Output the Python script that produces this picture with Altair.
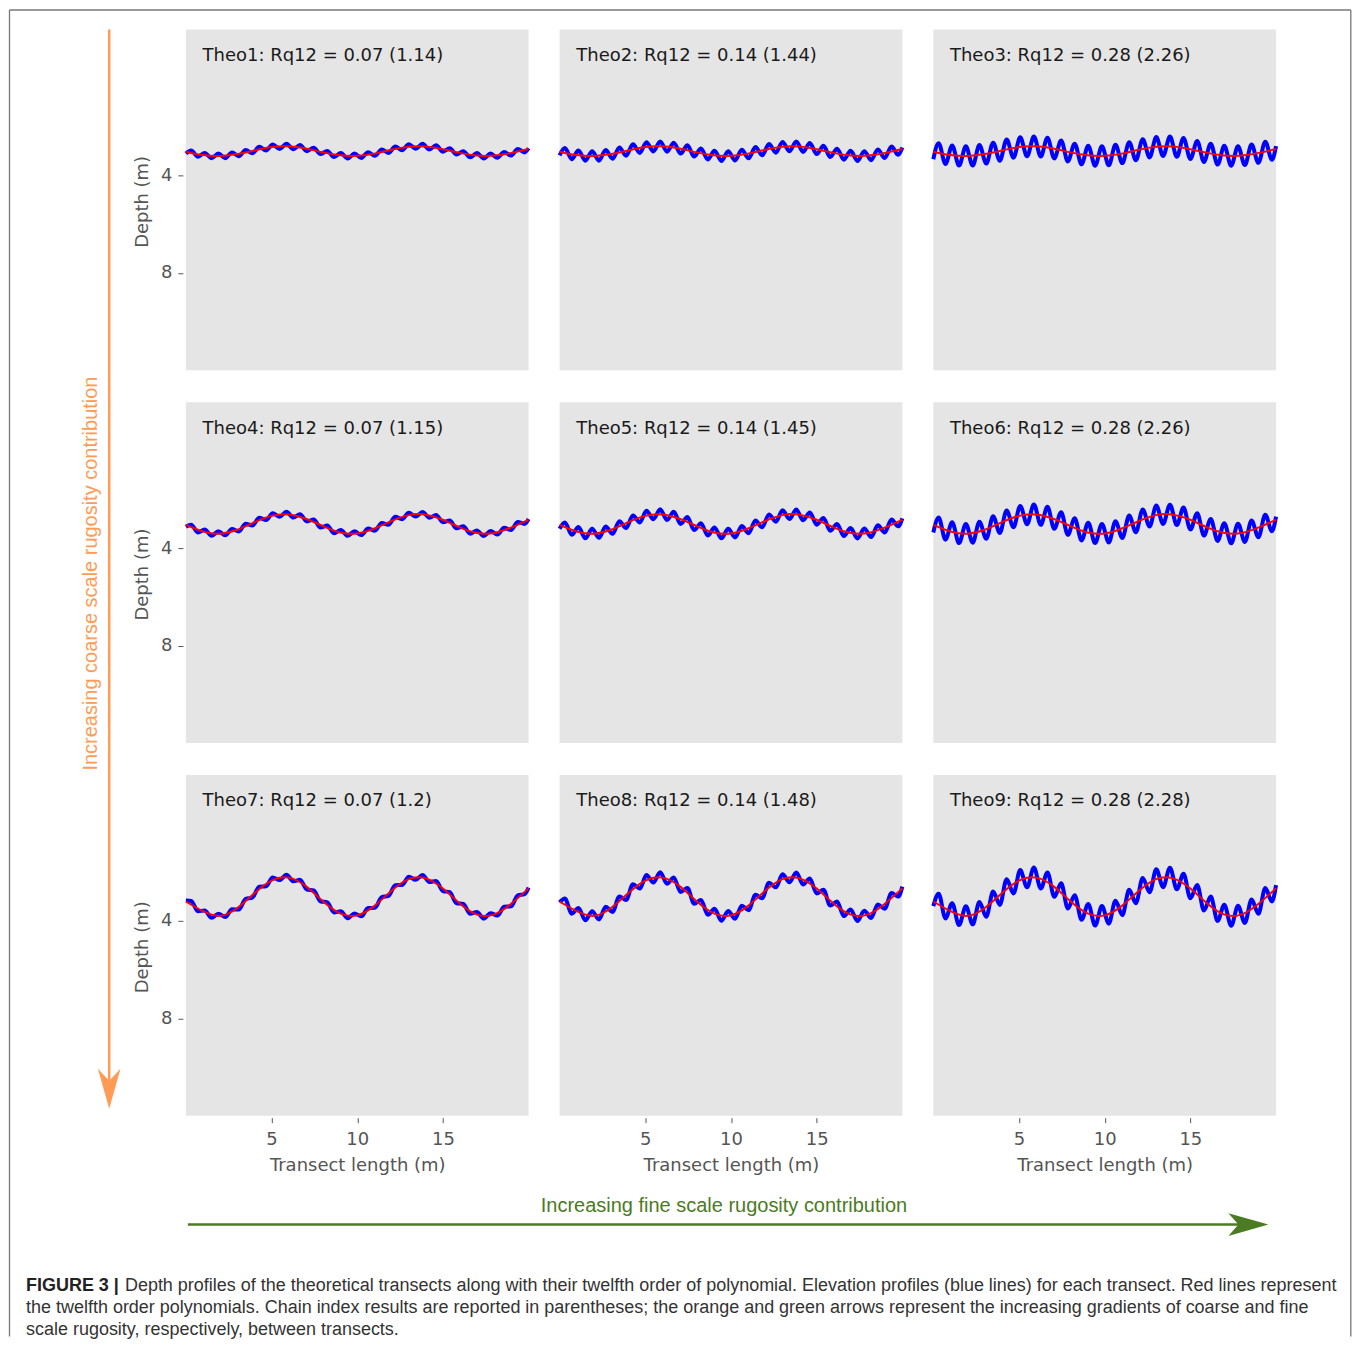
import altair as alt
import pandas as pd

# ---------------- data ----------------
# x positions (m) of the sampled points of the blue elevation profiles
x_blue = [0, 0.31, 0.71, 1.10, 1.50, 1.90, 2.30, 2.69, 3.09, 3.49, 3.88, 4.28, 4.68, 5.07, 5.47,
          5.87, 6.27, 6.66, 7.06, 7.46, 7.85, 8.25, 8.65, 9.04, 9.44, 9.84, 10.24, 10.63, 11.03,
          11.43, 11.82, 12.22, 12.62, 13.01, 13.41, 13.81, 14.21, 14.60, 15.00, 15.40, 15.79,
          16.19, 16.59, 16.98, 17.38, 17.78, 18.18, 18.57, 18.97, 19.37, 19.76, 20]

theo1 = [3.10, 2.97, 3.23, 3.07, 3.29, 3.10, 3.29, 3.05, 3.21, 2.95,
         3.09, 2.82, 2.97, 2.73, 2.91, 2.70, 2.92, 2.75, 3.00, 2.86,
         3.12, 2.99, 3.24, 3.08, 3.30, 3.10, 3.28, 3.04, 3.19, 2.93,
         3.07, 2.81, 2.96, 2.72, 2.90, 2.70, 2.93, 2.76, 3.02, 2.88,
         3.14, 3.00, 3.25, 3.08, 3.30, 3.10, 3.27, 3.03, 3.18, 2.91,
         3.05, 2.88]
theo2 = [3.17, 2.87, 3.33, 2.97, 3.39, 3.00, 3.39, 2.95, 3.31, 2.85,
         3.19, 2.72, 3.07, 2.63, 3.01, 2.60, 3.02, 2.65, 3.10, 2.76,
         3.22, 2.89, 3.34, 2.98, 3.40, 3.00, 3.38, 2.94, 3.29, 2.83,
         3.17, 2.71, 3.06, 2.62, 3.00, 2.60, 3.03, 2.66, 3.12, 2.78,
         3.24, 2.90, 3.35, 2.98, 3.40, 3.00, 3.37, 2.93, 3.28, 2.81,
         3.15, 2.85]
theo3 = [3.33, 2.67, 3.53, 2.77, 3.59, 2.80, 3.59, 2.75, 3.51, 2.65,
         3.39, 2.52, 3.27, 2.43, 3.21, 2.40, 3.22, 2.45, 3.30, 2.56,
         3.42, 2.69, 3.54, 2.78, 3.60, 2.80, 3.58, 2.74, 3.49, 2.63,
         3.37, 2.51, 3.26, 2.42, 3.20, 2.40, 3.23, 2.46, 3.32, 2.58,
         3.44, 2.70, 3.55, 2.78, 3.60, 2.80, 3.57, 2.73, 3.48, 2.61,
         3.35, 2.79]
theo4 = [3.12, 3.04, 3.35, 3.23, 3.49, 3.30, 3.47, 3.21, 3.31, 2.99,
         3.07, 2.75, 2.84, 2.56, 2.71, 2.50, 2.74, 2.60, 2.90, 2.82,
         3.15, 3.07, 3.38, 3.25, 3.49, 3.30, 3.46, 3.19, 3.28, 2.96,
         3.04, 2.71, 2.81, 2.54, 2.70, 2.51, 2.75, 2.63, 2.93, 2.86,
         3.18, 3.10, 3.40, 3.27, 3.50, 3.29, 3.44, 3.16, 3.25, 2.92,
         3.00, 2.80]
theo5 = [3.20, 2.94, 3.45, 3.13, 3.59, 3.20, 3.57, 3.11, 3.41, 2.89,
         3.17, 2.65, 2.94, 2.46, 2.81, 2.40, 2.84, 2.50, 3.00, 2.72,
         3.25, 2.97, 3.48, 3.15, 3.59, 3.20, 3.56, 3.09, 3.38, 2.86,
         3.14, 2.61, 2.91, 2.44, 2.80, 2.41, 2.85, 2.53, 3.03, 2.76,
         3.28, 3.00, 3.50, 3.17, 3.60, 3.19, 3.54, 3.06, 3.35, 2.82,
         3.10, 2.77]
theo6 = [3.35, 2.74, 3.65, 2.93, 3.79, 3.00, 3.77, 2.91, 3.61, 2.69,
         3.37, 2.45, 3.14, 2.26, 3.01, 2.20, 3.04, 2.30, 3.20, 2.52,
         3.45, 2.77, 3.68, 2.95, 3.79, 3.00, 3.76, 2.89, 3.58, 2.66,
         3.34, 2.41, 3.11, 2.24, 3.00, 2.21, 3.05, 2.33, 3.23, 2.56,
         3.48, 2.80, 3.70, 2.97, 3.80, 2.99, 3.74, 2.86, 3.55, 2.62,
         3.30, 2.70]
theo7 = [3.16, 3.18, 3.60, 3.57, 3.87, 3.70, 3.84, 3.52, 3.53, 3.09,
         3.04, 2.59, 2.57, 2.21, 2.32, 2.10, 2.37, 2.31, 2.71, 2.75,
         3.19, 3.24, 3.65, 3.60, 3.89, 3.69, 3.81, 3.47, 3.46, 3.02,
         2.97, 2.53, 2.52, 2.18, 2.31, 2.11, 2.40, 2.36, 2.77, 2.82,
         3.27, 3.30, 3.70, 3.63, 3.90, 3.68, 3.78, 3.42, 3.40, 2.95,
         2.90, 2.63]
theo8 = [3.24, 3.08, 3.70, 3.47, 3.97, 3.60, 3.94, 3.42, 3.63, 2.99,
         3.14, 2.49, 2.67, 2.11, 2.42, 2.00, 2.47, 2.21, 2.81, 2.65,
         3.29, 3.14, 3.75, 3.50, 3.99, 3.59, 3.91, 3.37, 3.56, 2.92,
         3.07, 2.43, 2.62, 2.08, 2.41, 2.01, 2.50, 2.26, 2.87, 2.72,
         3.37, 3.20, 3.80, 3.53, 4.00, 3.58, 3.88, 3.32, 3.50, 2.85,
         3.00, 2.59]
theo9 = [3.39, 2.88, 3.90, 3.27, 4.17, 3.40, 4.14, 3.22, 3.83, 2.79,
         3.34, 2.29, 2.87, 1.91, 2.62, 1.80, 2.67, 2.01, 3.01, 2.45,
         3.49, 2.94, 3.95, 3.30, 4.19, 3.39, 4.11, 3.17, 3.76, 2.72,
         3.27, 2.23, 2.82, 1.88, 2.61, 1.81, 2.70, 2.06, 3.07, 2.52,
         3.57, 3.00, 4.00, 3.33, 4.20, 3.38, 4.08, 3.12, 3.70, 2.65,
         3.20, 2.53]

# red twelfth-order polynomials (one per row of panels)
x_red = [0, 1, 2, 3, 4, 5, 6, 7, 8, 9, 10, 11, 12, 13, 14, 15, 16, 17, 18, 19, 20]
red_row1 = [3.02, 3.16, 3.20, 3.12, 2.97, 2.83, 2.80, 2.89, 3.05, 3.17, 3.19,
            3.10, 2.94, 2.82, 2.81, 2.92, 3.07, 3.18, 3.18, 3.07, 2.91]
red_row2 = [3.04, 3.31, 3.40, 3.24, 2.93, 2.67, 2.61, 2.79, 3.09, 3.35, 3.39,
            3.19, 2.88, 2.64, 2.62, 2.83, 3.15, 3.37, 3.37, 3.14, 2.83]
red_row3 = [3.20, 3.60, 3.79, 3.47, 2.86, 2.34, 2.22, 2.57, 3.19, 3.69, 3.77,
            3.38, 2.76, 2.28, 2.25, 2.67, 3.29, 3.74, 3.73, 3.28, 2.66]

names = ["Theo1", "Theo2", "Theo3", "Theo4", "Theo5", "Theo6", "Theo7", "Theo8", "Theo9"]
rq12 = ["0.07", "0.14", "0.28", "0.07", "0.14", "0.28", "0.07", "0.14", "0.28"]
chain = ["1.14", "1.44", "2.26", "1.15", "1.45", "2.26", "1.2", "1.48", "2.28"]

x_ticks = [5, 10, 15]
y_ticks = [4, 8]

caption_bold = "FIGURE 3 |"
caption_lines = [
    "Depth profiles of the theoretical transects along with their twelfth order of polynomial. Elevation profiles (blue lines) for each transect. Red lines represent",
    "the twelfth order polynomials. Chain index results are reported in parentheses; the orange and green arrows represent the increasing gradients of coarse and fine",
    "scale rugosity, respectively, between transects.",
]
coarse_label = "Increasing coarse scale rugosity contribution"
fine_label = "Increasing fine scale rugosity contribution"

blue_series = [theo1, theo2, theo3, theo4, theo5, theo6, theo7, theo8, theo9]
red_series = [red_row1, red_row2, red_row3]

# ---------------- styling ----------------
W, H = 343, 341
ORANGE = "#FF9B55"
GREEN = "#4B7B23"
AXIS_GREY = "#555555"
FONT = "DejaVu Sans"
SANS = "Liberation Sans"

one = pd.DataFrame({"k": [0]})


def rule(x, x2, y, y2, color, width):
    return alt.Chart(one).mark_rule(color=color, strokeWidth=width).encode(
        x=alt.value(x), x2=alt.value(x2), y=alt.value(y), y2=alt.value(y2)
    )


def label(text, x, y, size, color, font=SANS, align="left", angle=0, weight="normal"):
    return alt.Chart(pd.DataFrame({"t": [text]})).mark_text(
        align=align, baseline="middle", font=font, fontSize=size, color=color,
        angle=angle, fontWeight=weight
    ).encode(x=alt.value(x), y=alt.value(y), text="t:N")


def arrow_head(path, x, y, color):
    return alt.Chart(one).mark_point(
        shape=path, size=1600, filled=True, fill=color, color=color, opacity=1, strokeWidth=0
    ).encode(x=alt.value(x), y=alt.value(y))


def panel(i):
    row, col = divmod(i, 3)
    xscale = alt.Scale(domain=[0, 20], nice=False, zero=False)
    yscale = alt.Scale(domain=[-2, 12], reverse=True, nice=False, zero=False)
    if row == 2:
        xaxis = alt.Axis(values=x_ticks, title="Transect length (m)", tickSize=5, offset=2,
                         labelPadding=8, titleX=171.5, titleY=47.5, titleAlign="center",
                         titleBaseline="middle", labelFlush=False)
    else:
        xaxis = None
    if col == 0:
        yaxis = alt.Axis(values=y_ticks, title="Depth (m)", tickSize=5, offset=3,
                         labelPadding=6, titleX=-40.5, titleY=172, titleAngle=270,
                         titleAlign="center", titleBaseline="middle")
    else:
        yaxis = None

    blue_df = pd.DataFrame({"x": x_blue, "depth": blue_series[i]})
    red_df = pd.DataFrame({"x": x_red, "depth": red_series[row]})

    blue = alt.Chart(blue_df).mark_line(color="#0000FF", strokeWidth=4, interpolate="monotone").encode(
        x=alt.X("x:Q", scale=xscale, axis=xaxis),
        y=alt.Y("depth:Q", scale=yscale, axis=yaxis),
    )
    red = alt.Chart(red_df).mark_line(color="#FF0000", strokeWidth=2, interpolate="natural").encode(
        x=alt.X("x:Q", scale=xscale, axis=xaxis),
        y=alt.Y("depth:Q", scale=yscale, axis=yaxis),
    )
    title = label(f"{names[i]}: Rq12 = {rq12[i]} ({chain[i]})", 16.7, 26.5, 18, "#1a1a1a", font=FONT)
    layers = [blue, red, title]

    if i == 0:
        # frame, arrows, arrow labels and caption (pixel positions relative to this panel)
        layers += [
            rule(-176.5, 1165.8, -19.5, -19.5, "#777777", 1.3),
            rule(-176.5, -176.5, -19.5, 1308, "#777777", 1.3),
            rule(1165.8, 1165.8, -19.5, 1308, "#777777", 1.3),
            rule(-76.7, -76.7, 0, 1055, ORANGE, 2.5),
            arrow_head("M0,1 L-0.565,-1 L0,-0.4 L0.565,-1 Z", -76.7, 1060, ORANGE),
            label(coarse_label, -95, 544.5, 20, ORANGE, align="center", angle=270),
            rule(2, 1055, 1196, 1196, GREEN, 2.5),
            arrow_head("M1,0 L-1,-0.565 L-0.5,0 L-1,0.565 Z", 1063.3, 1196, GREEN),
            label(fine_label, 538.5, 1177, 20, GREEN, align="center"),
            label(caption_bold, -160, 1257, 18, "#222222", weight="bold"),
            label(caption_lines[0], -61, 1257, 18, "#333333"),
            label(caption_lines[1], -160, 1279.5, 18, "#333333"),
            label(caption_lines[2], -160, 1301.5, 18, "#333333"),
        ]
    return alt.layer(*layers).properties(width=W, height=H)


panels = [panel(i) for i in range(9)]

chart = alt.concat(
    *panels, columns=3, spacing={"row": 32, "column": 31}, bounds="flush"
).properties(
    padding=0, background="white"
).configure_view(
    fill="#E5E5E5", strokeWidth=0
).configure_axis(
    labelFont=FONT, titleFont=FONT, labelFontSize=18, titleFontSize=18,
    labelColor=AXIS_GREY, titleColor=AXIS_GREY, tickColor=AXIS_GREY, tickWidth=1,
    domain=False, grid=False, titleFontWeight="normal"
)

chart.save("out.html", embed_options={"renderer": "svg", "actions": False})
